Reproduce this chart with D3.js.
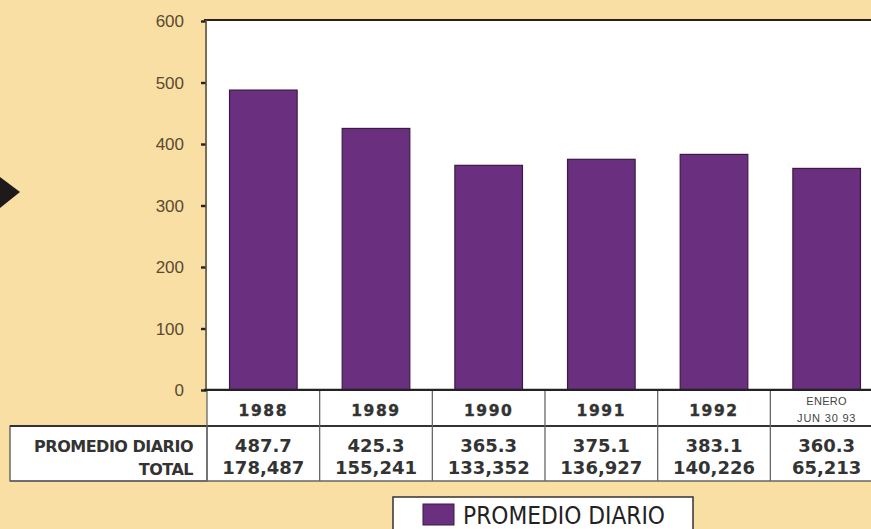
<!DOCTYPE html>
<html><head><meta charset="utf-8">
<script src="https://cdn.jsdelivr.net/npm/d3@7/dist/d3.min.js"></script>
<style>
html,body{margin:0;padding:0;background:#f9dfa4;}
svg{display:block;}
</style></head>
<body>
<script>
const categories = ["1988","1989","1990","1991","1992","ENERO|JUN 30 93"];
const promedioDiario = [487.7, 425.3, 365.3, 375.1, 383.1, 360.3];
const promedioLabels = ["487.7","425.3","365.3","375.1","383.1","360.3"];
const totals = ["178,487","155,241","133,352","136,927","140,226","65,213"];
const yTicks = [0,100,200,300,400,500,600];
const rowLabels = ["PROMEDIO DIARIO","TOTAL"];
const legendLabel = "PROMEDIO DIARIO";

(function(){
const W = 871, H = 529;
const svg = d3.select("body").append("svg").attr("width", W).attr("height", H);

svg.append("rect").attr("width", W).attr("height", H).attr("fill", "#f9dfa4");

// decorative arrow at left
svg.append("path").attr("d", "M0,177 L20,192 L0,208 Z").attr("fill", "#1e1a1c");

const pL = 207, pR = 883, pT = 21, pB = 390;
const x = d3.scaleBand().domain(categories).range([pL, pR]).paddingInner(0.4).paddingOuter(0.2);
const y = d3.scaleLinear().domain([0, 600]).range([pB, pT]);

// plot background
svg.append("rect").attr("x", pL).attr("y", pT).attr("width", pR - pL).attr("height", pB - pT).attr("fill", "#ffffff");

// bars
svg.selectAll("rect.bar").data(categories).enter().append("rect")
  .attr("class", "bar")
  .attr("x", d => x(d))
  .attr("y", (d, i) => y(promedioDiario[i]))
  .attr("width", x.bandwidth())
  .attr("height", (d, i) => y(0) - y(promedioDiario[i]))
  .attr("fill", "#6a2f7f")
  .attr("stroke", "#3b1a45")
  .attr("stroke-width", 1.2);

// y axis
const yAxis = d3.axisLeft(y).tickValues(yTicks).tickSize(5).tickPadding(17).tickFormat(d3.format("d"));
const ga = svg.append("g").attr("transform", `translate(${pL - 1},0)`).call(yAxis);
ga.select(".domain").remove();
ga.selectAll(".tick line").attr("stroke", "#2a2118").attr("stroke-width", 2.4);
ga.selectAll(".tick text").attr("fill", "#5a4a30").attr("font-family", "Liberation Sans, Arial, sans-serif")
  .attr("font-size", 17).attr("dy", "0.34em");

// frame lines
svg.append("line").attr("x1", pL - 3).attr("x2", W).attr("y1", pT - 1).attr("y2", pT - 1).attr("stroke", "#2b2218").attr("stroke-width", 2.2);
svg.append("line").attr("x1", pL - 1).attr("x2", pL - 1).attr("y1", pT - 1).attr("y2", pB + 2).attr("stroke", "#5a5040").attr("stroke-width", 1.6);
svg.append("line").attr("x1", pL - 3).attr("x2", W).attr("y1", pB).attr("y2", pB).attr("stroke", "#222").attr("stroke-width", 2.4);

// table
const rowTop = pB + 1, rowMid = 426, rowBot = 481;
const step = x.step();
svg.append("rect").attr("x", pL).attr("y", rowTop).attr("width", pR - pL).attr("height", rowBot - rowTop).attr("fill", "#fff");
svg.append("rect").attr("x", 10).attr("y", rowMid).attr("width", pL - 10).attr("height", rowBot - rowMid)
  .attr("fill", "#fff").attr("stroke", "#555").attr("stroke-width", 1.3);
svg.append("line").attr("x1", 10).attr("x2", W).attr("y1", rowMid).attr("y2", rowMid).attr("stroke", "#333").attr("stroke-width", 2);
svg.append("line").attr("x1", 10).attr("x2", W).attr("y1", rowBot).attr("y2", rowBot).attr("stroke", "#666").attr("stroke-width", 1.3);
categories.forEach((c, i) => {
  const cx = pL + step * i;
  svg.append("line").attr("x1", cx).attr("x2", cx).attr("y1", rowTop).attr("y2", rowBot).attr("stroke", "#666").attr("stroke-width", 1.3);
});

const ff = "Liberation Sans, Arial, sans-serif";
const fb = "DejaVu Sans, Verdana, sans-serif";
const ink = "#333";
categories.forEach((c, i) => {
  const cx = x(c) + x.bandwidth() / 2;
  if (c.includes("|")) {
    const parts = c.split("|");
    svg.append("text").attr("x", cx).attr("y", 405).attr("text-anchor", "middle").attr("font-family", ff)
      .attr("font-size", 11).attr("letter-spacing", 0.3).attr("fill", "#444").text(parts[0]);
    svg.append("text").attr("x", cx).attr("y", 422).attr("text-anchor", "middle").attr("font-family", ff)
      .attr("font-size", 11).attr("letter-spacing", 0.8).attr("fill", "#444").text(parts[1]);
  } else {
    svg.append("text").attr("x", cx).attr("y", 416).attr("text-anchor", "middle").attr("font-family", fb)
      .attr("font-weight", "bold").attr("font-size", 15.5).attr("letter-spacing", 1.6).attr("fill", ink)
      .attr("stroke", ink).attr("stroke-width", 0.4).text(c);
  }
  svg.append("text").attr("x", cx).attr("y", 452).attr("text-anchor", "middle").attr("font-family", fb)
    .attr("font-weight", "bold").attr("font-size", 18).attr("fill", ink).text(promedioLabels[i]);
  svg.append("text").attr("x", cx).attr("y", 474).attr("text-anchor", "middle").attr("font-family", fb)
    .attr("font-weight", "bold").attr("font-size", 18).attr("fill", ink).text(totals[i]);
});
rowLabels.forEach((t, i) => {
  svg.append("text").attr("x", 193).attr("y", i === 0 ? 452 : 475).attr("text-anchor", "end").attr("font-family", fb)
    .attr("font-weight", "bold").attr("font-size", 16).attr("letter-spacing", -0.5).attr("fill", ink).text(t);
});

// legend
const lg = svg.append("g");
lg.append("rect").attr("x", 393).attr("y", 497).attr("width", 300).attr("height", 40).attr("fill", "#fff")
  .attr("stroke", "#333").attr("stroke-width", 1.5);
lg.append("rect").attr("x", 423).attr("y", 504).attr("width", 31).attr("height", 21).attr("fill", "#6a2f7f").attr("stroke", "#3b1a45");
lg.append("text").attr("x", 463).attr("y", 524).attr("font-family", "Liberation Sans Narrow, DejaVu Sans Condensed, Arial Narrow, sans-serif")
  .attr("font-size", 24).attr("fill", "#222").attr("textLength", 202).attr("lengthAdjust", "spacingAndGlyphs").text(legendLabel);
})();
</script>
</body></html>
